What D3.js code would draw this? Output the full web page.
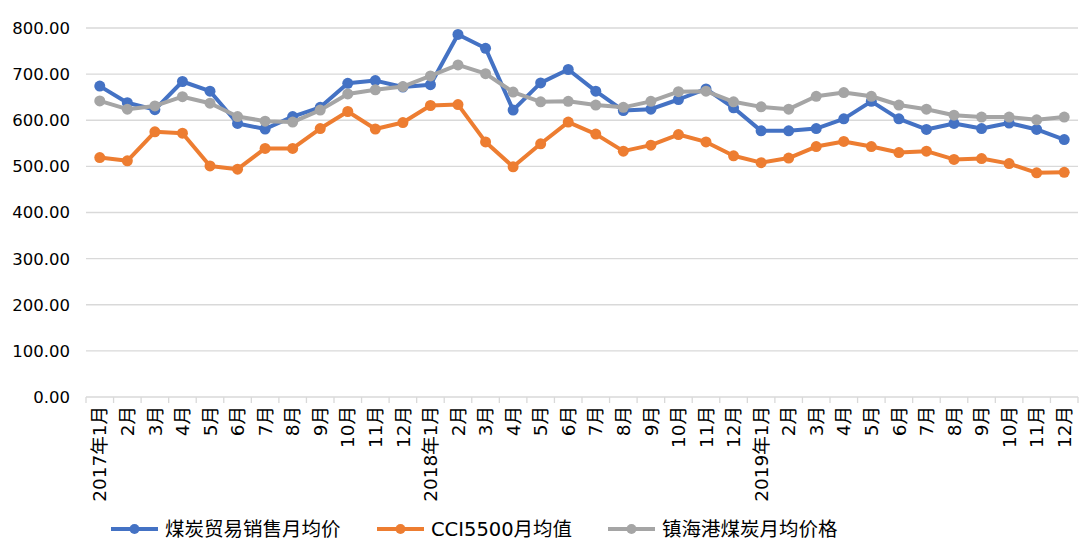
<!DOCTYPE html>
<html>
  <head>
    <meta charset="UTF-8" />
    <style>
      body { margin: 0; background: #fff; }
      text { font-family: "DejaVu Sans", "Noto Sans CJK SC", sans-serif; fill: #000; }
    </style>
  </head>
  <body>
    <svg></svg>
    <script src="https://d3js.org/d3.v7.min.js"></script>
    <script>
      let width = 1080,
        height = 541;

      // month labels
      let months = [
        "2017年1月", "2月", "3月", "4月", "5月", "6月", "7月", "8月", "9月", "10月", "11月", "12月",
        "2018年1月", "2月", "3月", "4月", "5月", "6月", "7月", "8月", "9月", "10月", "11月", "12月",
        "2019年1月", "2月", "3月", "4月", "5月", "6月", "7月", "8月", "9月", "10月", "11月", "12月",
      ];

      let tradePrice = [
        674, 638, 623, 684, 663, 593, 581, 608, 628, 680, 686, 672,
        677, 786, 756, 622, 681, 710, 663, 621, 624, 645, 668, 627,
        577, 577, 582, 603, 641, 603, 580, 593, 582, 594, 580, 558,
      ];
      let cciPrice = [
        519, 512, 575, 572, 501, 494, 539, 539, 582, 619, 581, 595,
        632, 634, 553, 499, 549, 596, 570, 533, 546, 569, 553, 523,
        508, 518, 543, 554, 543, 530, 533, 515, 517, 506, 486, 487,
      ];
      let portPrice = [
        642, 624, 631, 651, 637, 608, 598, 596, 622, 657, 666, 673,
        696, 720, 701, 661, 640, 641, 633, 628, 641, 662, 663, 640,
        629, 624, 652, 660, 652, 633, 624, 611, 607, 607, 601, 607,
      ];

      let seriesNames = ["煤炭贸易销售月均价", "CCI5500月均值", "镇海港煤炭月均价格"];
      let seriesColors = ["#4472C4", "#ED7D31", "#A5A5A5"];
      let yTicks = [0, 100, 200, 300, 400, 500, 600, 700, 800];

      let svg = d3.select("svg").attr("width", width).attr("height", height);

      let x = d3.scaleBand().domain(d3.range(months.length)).range([86, 1078]);
      let y = d3.scaleLinear().domain([0, 800]).range([397, 28]);

      // gridlines
      svg
        .append("g")
        .selectAll("line")
        .data(yTicks)
        .join("line")
        .attr("x1", 86)
        .attr("x2", 1078)
        .attr("y1", (d) => y(d))
        .attr("y2", (d) => y(d))
        .attr("stroke", "#d9d9d9")
        .attr("stroke-width", 1.3);

      // y labels
      svg
        .append("g")
        .selectAll("text")
        .data(yTicks)
        .join("text")
        .attr("x", 70)
        .attr("y", (d) => y(d))
        .attr("dy", "0.36em")
        .attr("text-anchor", "end")
        .style("font-size", "16.5px")
        .text((d) => d.toFixed(2));

      // category tick marks
      svg
        .append("g")
        .selectAll("line")
        .data(d3.range(months.length + 1))
        .join("line")
        .attr("x1", (d) => 86 + d * x.step())
        .attr("x2", (d) => 86 + d * x.step())
        .attr("y1", y(0))
        .attr("y2", y(0) + 6)
        .attr("stroke", "#d9d9d9")
        .attr("stroke-width", 1.3);

      // x labels, rotated
      svg
        .append("g")
        .selectAll("text")
        .data(months)
        .join("text")
        .attr("transform", (d, i) => `translate(${x(i) + x.bandwidth() / 2},406) rotate(-90)`)
        .attr("text-anchor", "end")
        .attr("dy", "0.36em")
        .style("font-size", "18.5px")
        .text((d) => d);

      let allSeries = [tradePrice, cciPrice, portPrice];
      let line = d3
        .line()
        .x((d, i) => x(i) + x.bandwidth() / 2)
        .y((d) => y(d));

      allSeries.forEach((values, k) => {
        let g = svg.append("g");
        g.append("path")
          .datum(values)
          .attr("fill", "none")
          .attr("stroke", seriesColors[k])
          .attr("stroke-width", 4)
          .attr("stroke-linejoin", "round")
          .attr("d", line);
        g.selectAll("circle")
          .data(values)
          .join("circle")
          .attr("cx", (d, i) => x(i) + x.bandwidth() / 2)
          .attr("cy", (d) => y(d))
          .attr("r", 5.5)
          .attr("fill", seriesColors[k]);
      });

      // legend
      let legendX = [111, 377, 608];
      let legend = svg
        .append("g")
        .selectAll("g")
        .data(seriesNames)
        .join("g")
        .attr("transform", (d, i) => `translate(${legendX[i]},529)`);
      legend
        .append("line")
        .attr("x1", 0)
        .attr("x2", 47)
        .attr("stroke", (d, i) => seriesColors[i])
        .attr("stroke-width", 4);
      legend
        .append("circle")
        .attr("cx", 23.5)
        .attr("r", 5)
        .attr("fill", (d, i) => seriesColors[i]);
      legend
        .append("text")
        .attr("x", 54)
        .attr("dy", "0.36em")
        .style("font-size", "19.5px")
        .text((d) => d);
    </script>
  </body>
</html>
